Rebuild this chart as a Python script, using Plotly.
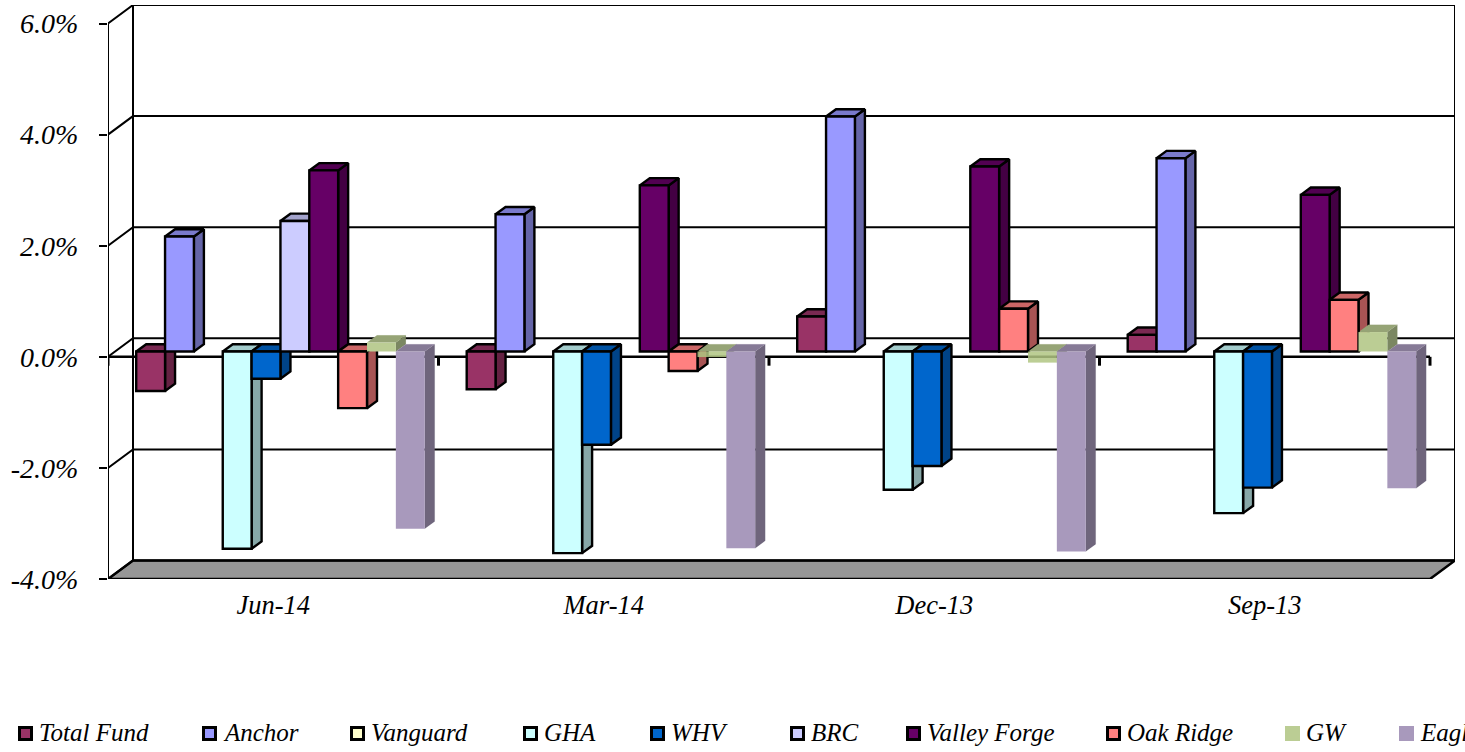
import plotly.graph_objects as go

periods = ["Jun-14", "Mar-14", "Dec-13", "Sep-13"]
total_fund = [-0.71, -0.68, 0.63, 0.30]
anchor = [2.07, 2.47, 4.23, 3.48]
vanguard = [None, None, None, None]
gha = [-3.55, -3.63, -2.49, -2.91]
whv = [-0.49, -1.68, -2.06, -2.45]
brc = [2.35, None, None, None]
valley_forge = [3.26, 2.99, 3.33, 2.82]
oak_ridge = [-1.02, -0.35, 0.77, 0.93]
gw = [0.16, -0.10, -0.20, 0.35]
eagle = [-3.19, -3.54, -3.60, -2.46]

series_names = ["Total Fund", "Anchor", "Vanguard", "GHA", "WHV", "BRC", "Valley Forge", "Oak Ridge", "GW", "Eagle"]
series_values = [total_fund, anchor, vanguard, gha, whv, brc, valley_forge, oak_ridge, gw, eagle]
series_rgb = [(153, 51, 102), (153, 153, 255), (255, 255, 204), (204, 255, 255), (0, 102, 204),
              (204, 204, 255), (102, 0, 102), (255, 128, 128), (187, 205, 148), (168, 153, 188)]
series_border = [2.4, 2.4, 2.4, 2.4, 2.4, 2.4, 2.4, 2.4, 0, 0]
y_ticks = [-4, -2, 0, 2, 4, 6]
y_labels = ["-4.0%", "-2.0%", "0.0%", "2.0%", "4.0%", "6.0%"]

FONT = "Liberation Serif"
FS = 26.5
Y_FS = 28
LEG_FS = 25
W, H = 1465, 752
L, T, B = 108, 5, 173
PX_X = 330.5            # pixels per period group
PX_Y = 55.5             # pixels per percent
DX = 25 / PX_X          # wall depth
DY = 18.5 / PX_Y
XMAX = 4 + DX
YMAX = 6 + DY
F_DX = 7.2 / PX_X       # front-face shift of the bars from the front plane
F_DY = 5.3 / PX_Y
B_DX = 10 / PX_X        # bar depth
B_DY = 7.3 / PX_Y
BAR_W = 28.85 / PX_X
BAR_GAP = 1 - 10 * BAR_W
LEGEND_LEFT = [18, 202, 350, 523, 650, 790, 906, 1106, 1285, 1399]


def rgb(c, f=1.0):
    return "rgb(%d,%d,%d)" % tuple(round(v * f) for v in c)


fig = go.Figure()


def line(xs, ys, width=2):
    fig.add_trace(go.Scatter(x=xs, y=ys, mode="lines", line=dict(color="black", width=width),
                             showlegend=False, hoverinfo="skip", cliponaxis=False))


# floor
fig.add_trace(go.Scatter(x=[0, 4, XMAX, DX, 0], y=[-4, -4, -4 + DY, -4 + DY, -4], mode="lines", fill="toself",
                         fillcolor="#969696", line=dict(color="black", width=2.5),
                         showlegend=False, hoverinfo="skip", cliponaxis=False))
# back wall and left wall
line([DX, DX], [-4 + DY, YMAX])
line([XMAX, XMAX], [-4 + DY, YMAX])
line([0, 0], [-4, 6])
for t in y_ticks:
    line([0, DX, XMAX], [t, t + DY, t + DY])
# front axis
line([0, 4], [0, 0], 2.5)
for i in range(5):
    line([i, i], [0, -0.16], 3)

# depth faces of the bars, derived from the values
for k, (name, vals, c, bw) in enumerate(zip(series_names, series_values, series_rgb, series_border)):
    sx, sy, tx, ty = [], [], [], []
    for i, v in enumerate(vals):
        if v is None:
            continue
        xl = i + F_DX + BAR_GAP / 2 + k * BAR_W
        xr = xl + BAR_W
        y0, y1 = F_DY, v + F_DY
        top = max(y0, y1)
        sx += [xr, xr + B_DX, xr + B_DX, xr, xr, None]
        sy += [y0, y0 + B_DY, y1 + B_DY, y1, y0, None]
        tx += [xl, xr, xr + B_DX, xl + B_DX, xl, None]
        ty += [top, top, top + B_DY, top + B_DY, top, None]
    for xs, ys, f in ((sx, sy, 0.66), (tx, ty, 0.8)):
        if xs:
            fig.add_trace(go.Scatter(x=xs, y=ys, mode="lines", fill="toself", fillcolor=rgb(c, f),
                                     line=dict(color="black" if bw else rgb(c, f), width=max(bw, 0.1)),
                                     showlegend=False, hoverinfo="skip", cliponaxis=False))

# front faces on an overlaid pair of axes, whose zero sits on the bars' floor plane
for k, (name, vals, c, bw) in enumerate(zip(series_names, series_values, series_rgb, series_border)):
    if name == "GW":
        # the negative GW bars let the axis line show through
        colors = ["rgb(176,197,130)" if v < 0 else rgb(c) for v in vals]
        opac = [0.85 if v < 0 else 1 for v in vals]
    else:
        colors, opac = rgb(c), 1
    fig.add_trace(go.Bar(x=periods, y=vals, name=name, xaxis="x2", yaxis="y2", showlegend=False,
                         marker=dict(color=colors, opacity=opac, line=dict(color="black", width=bw))))

plot_w = round(XMAX * PX_X)
plot_h = H - T - B
shapes, annotations = [], []
for name, px, c, bw in zip(series_names, LEGEND_LEFT, series_rgb, series_border):
    inset = 1.5 if bw else 0
    shapes.append(dict(type="rect", xref="paper", yref="paper", layer="above",
                       x0=(px + inset - L) / plot_w, x1=(px + 15 - inset - L) / plot_w,
                       y0=(579 - 741 + inset) / plot_h, y1=(579 - 726 - inset) / plot_h,
                       fillcolor=rgb(c), line=dict(color="black", width=3 if bw else 0)))
    annotations.append(dict(text=name, xref="paper", yref="paper", showarrow=False,
                            x=(px + 19 - L) / plot_w, xanchor="left",
                            y=(579 - 732) / plot_h, yanchor="middle",
                            font=dict(family=FONT, size=LEG_FS, style="italic", color="black")))

fig.update_layout(
    width=W, height=H, paper_bgcolor="white", plot_bgcolor="white", showlegend=False,
    margin=dict(l=L, r=W - L - plot_w, t=T, b=B, autoexpand=False, pad=0),
    barmode="group", bargap=BAR_GAP, bargroupgap=0,
    font=dict(family=FONT, size=FS, color="black", style="italic"),
    xaxis=dict(range=[0, XMAX], tickmode="array", tickvals=[i + 0.5 for i in range(4)], ticktext=periods,
               showgrid=False, zeroline=False, showline=False, ticks="", ticklabelstandoff=7,
               tickfont=dict(family=FONT, size=FS, style="italic")),
    yaxis=dict(range=[-4, YMAX], tickmode="array", tickvals=y_ticks, ticktext=y_labels,
               showgrid=False, zeroline=False, showline=False, ticks="outside", ticklen=8, tickwidth=2,
               tickcolor="black", ticklabelstandoff=15, tickfont=dict(family=FONT, size=Y_FS, style="italic")),
    xaxis2=dict(overlaying="x", type="category", categoryorder="array", categoryarray=periods,
                range=[-(0.5 + F_DX), XMAX - 0.5 - F_DX], visible=False),
    yaxis2=dict(overlaying="y", range=[-4 - F_DY, YMAX - F_DY], visible=False),
    shapes=shapes, annotations=annotations,
)
fig.write_html("out.html", config=dict(displayModeBar=False),
               post_script="document.body.style.margin='0';")
